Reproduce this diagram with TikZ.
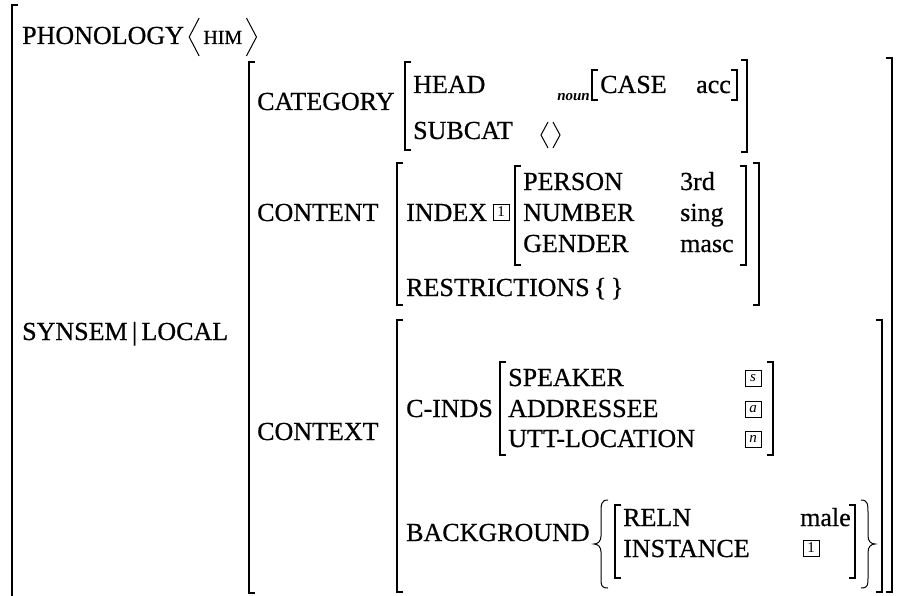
\documentclass[tikz,border=0pt]{standalone}
\usepackage{fontspec}
\setmainfont{Liberation Serif}
% slightly heavier setting of the roman face for the feature labels
\newfontfamily\inkfont{Liberation Serif}[FakeBold=0.6]
% square bracket of an attribute-value matrix: x, top y, bottom y
\newcommand\lbrk[3]{\draw[brk] ({#1+6},#2) -- (#1,#2) -- (#1,#3) -- ({#1+6},#3);}
\newcommand\rbrk[3]{\draw[brk] ({#1-6},#2) -- (#1,#2) -- (#1,#3) -- ({#1-6},#3);}
\begin{document}
\begin{tikzpicture}[x=1pt,y=-1pt,
  lbl/.style={anchor=base west, inner sep=0pt, font=\inkfont\fontsize{26}{30}\selectfont},
  brk/.style={line width=1.7pt},
  thin/.style={line width=1pt},
  tg/.style={draw, line width=0.9pt, inner sep=0pt, minimum size=16pt,
    font=\fontsize{15}{15}\selectfont}]
\useasboundingbox (0,0) rectangle (899,596);

% outermost matrix
\draw[brk] (18,5) -- (12,5) -- (12,600);
\node[lbl] (phon) at (22,44) {PHONOLOGY};
\coordinate (la) at ([xshift=5pt]phon.base east);
\draw[thin] ([xshift=10pt,yshift=26pt]la) -- ([yshift=7pt]la) -- ([xshift=10pt,yshift=-12pt]la);
\node[lbl, font=\inkfont\fontsize{20}{22}\selectfont] (him) at ([xshift=14pt]la) {HIM};
\coordinate (ra) at ([xshift=4pt]him.base east);
\draw[thin] ([yshift=26pt]ra) -- ([xshift=10pt,yshift=7pt]ra) -- ([yshift=-12pt]ra);
\node[lbl] (synsem) at (22,340) {SYNSEM\,|\,LOCAL};

% SYNSEM|LOCAL value
\lbrk{249}{62}{593}
\rbrk{892}{58}{592}

% CATEGORY
\node[lbl] (cat) at (257,110) {CATEGORY};
\lbrk{405}{62}{150}
\rbrk{747}{60}{152}
\node[lbl] (head) at (413,93) {HEAD};
\node[anchor=base east, inner sep=0pt, font=\fontsize{15}{15}\selectfont\itshape\bfseries] (noun) at (590,101) {noun};
\lbrk{592}{70}{100}
\node[lbl] (case) at (600,93) {CASE};
\node[lbl] (acc) at (696,93) {acc};
\rbrk{737}{70}{100}
\node[lbl] (subcat) at (413,139) {SUBCAT};
\draw[thin] (548,122) -- (541,135) -- (548,148);
\draw[thin] (553,122) -- (560,135) -- (553,148);

% CONTENT
\node[lbl] (cont) at (257,221) {CONTENT};
\lbrk{397}{163}{305}
\rbrk{759}{163}{305}
\node[lbl] (index) at (406,221) {INDEX};
\node[tg] (t1a) at (501,212) {1};
\lbrk{515}{166}{265}
\rbrk{746}{166}{265}
\node[lbl] (pers) at (523,190) {PERSON};
\node[lbl] (num) at (523,221) {NUMBER};
\node[lbl] (gend) at (523,252) {GENDER};
\node[lbl] (third) at (680,190) {3rd};
\node[lbl] (sing) at (680,221) {sing};
\node[lbl] (masc) at (680,252) {masc};
\node[lbl] (restr) at (406,296) {RESTRICTIONS\,\{\,\}};

% CONTEXT
\node[lbl] (ctx) at (257,440) {CONTEXT};
\lbrk{397}{320}{592}
\rbrk{882}{320}{592}
\node[lbl] (cinds) at (406,417) {C-INDS};
\lbrk{500}{362}{455}
\rbrk{773}{362}{455}
\node[lbl] (spk) at (508,386) {SPEAKER};
\node[lbl] (addr) at (508,417) {ADDRESSEE};
\node[lbl] (utt) at (508,447) {UTT-LOCATION};
\node[tg] (ts) at (753,378) {\itshape s};
\node[tg] (ta) at (753,409) {\itshape a};
\node[tg] (tn) at (753,439) {\itshape n};
\node[lbl] (bg) at (406,541) {BACKGROUND};
\draw[thin] (608,500) .. controls (601,500) and (601,505) .. (601,512) -- (601,536)
  .. controls (601,541) and (598,544) .. (594,544)
  .. controls (598,544) and (601,547) .. (601,552) -- (601,578)
  .. controls (601,585) and (601,588) .. (608,588);
\lbrk{615}{505}{578}
\rbrk{855}{505}{578}
\node[lbl] (reln) at (623,526) {RELN};
\node[lbl] (inst) at (623,557) {INSTANCE};
\node[lbl] (male) at (800,526) {male};
\node[tg] (t1b) at (811,548) {1};
\draw[thin] (861,500) .. controls (868,500) and (868,505) .. (868,512) -- (868,536)
  .. controls (868,541) and (871,544) .. (875,544)
  .. controls (871,544) and (868,547) .. (868,552) -- (868,578)
  .. controls (868,585) and (868,588) .. (861,588);
\end{tikzpicture}
\end{document}
